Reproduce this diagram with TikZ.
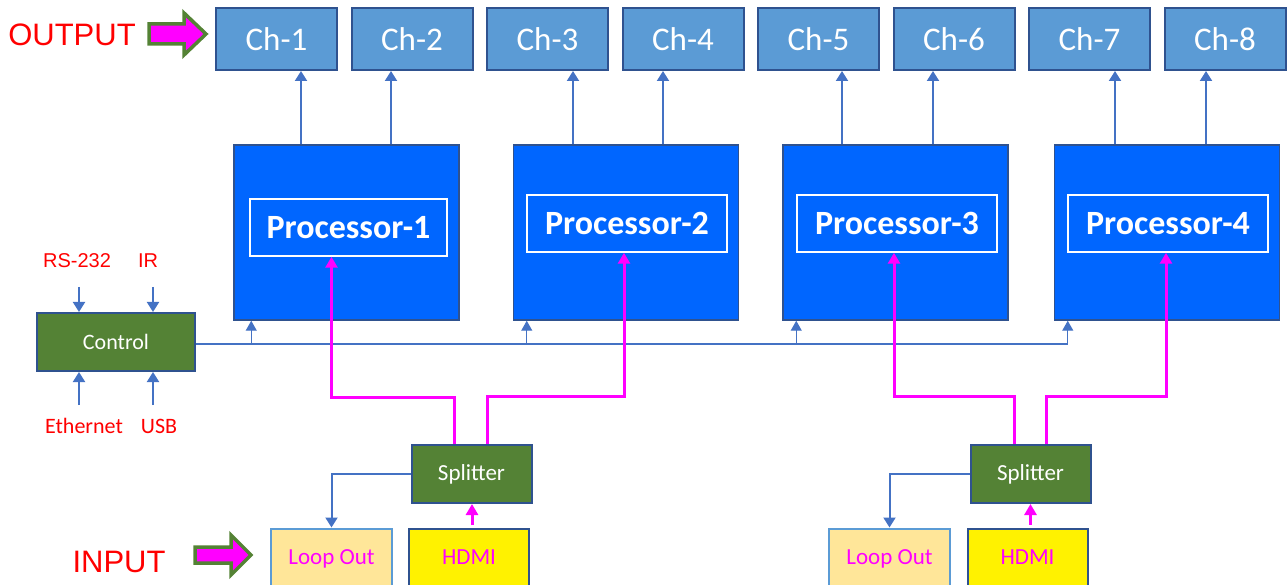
\documentclass[tikz,border=0pt]{standalone}
\usepackage{fontspec}
\setmainfont{Carlito}
\newfontfamily\arialfont{Liberation Sans}
\usetikzlibrary{positioning,arrows.meta}
\definecolor{chfill}{RGB}{91,155,213}
\definecolor{chline}{RGB}{47,82,143}
\definecolor{procfill}{RGB}{0,102,255}
\definecolor{ctlgreen}{RGB}{84,130,53}
\definecolor{loopfill}{RGB}{255,230,153}
\definecolor{wireblue}{RGB}{68,114,196}
\definecolor{sigpink}{RGB}{255,0,255}
\definecolor{labred}{RGB}{255,0,0}
\begin{document}
\begin{tikzpicture}[x=1pt,y=-1pt,
    chbox/.style={draw=chline,line width=2pt,fill=chfill,text=white,inner sep=0pt,
      minimum width=121pt,minimum height=62pt,font=\fontsize{33}{33}\selectfont},
    procbox/.style={draw=chline,line width=1.5pt,fill=procfill,inner sep=0pt,
      minimum width=225pt,minimum height=175pt},
    procname/.style={draw=white,line width=1.5pt,text=white,inner sep=0pt,
      minimum width=200pt,minimum height=57pt,font=\fontsize{34}{34}\selectfont\bfseries},
    greenbox/.style={draw=chline,line width=2pt,fill=ctlgreen,text=white,inner sep=0pt,
      minimum height=58pt,font=\fontsize{22}{22}\selectfont},
    loopbox/.style={draw=chfill,line width=2pt,fill=loopfill,text=sigpink,inner sep=0pt,
      text depth=0pt,minimum width=121pt,minimum height=57pt,font=\fontsize{23}{23}\selectfont},
    hdmibox/.style={draw=chline,line width=2pt,fill=yellow,text=sigpink,inner sep=0pt,
      minimum width=120pt,minimum height=57pt,font=\fontsize{23}{23}\selectfont},
    redtext/.style={text=labred,inner sep=0pt},
    feed/.style={draw=wireblue,line width=2pt,-{Triangle[length=10pt,width=12pt]}},
    tap/.style={draw=wireblue,line width=1.2pt,-{Triangle[length=10pt,width=11pt]}},
    sig/.style={draw=sigpink,line width=3pt,-{Triangle[length=11pt,width=12pt]}},
    bigarrow/.style={draw=ctlgreen,line width=3.5pt,fill=sigpink,line join=miter}]
    \useasboundingbox (0,0) rectangle (1288,585);
    % output channels
    \node[chbox] (ch1) at (276.5,39) {Ch-1};
    \node[chbox] (ch2) at (412,39) {Ch-2};
    \node[chbox] (ch3) at (547.5,39) {Ch-3};
    \node[chbox] (ch4) at (683,39) {Ch-4};
    \node[chbox] (ch5) at (818.5,39) {Ch-5};
    \node[chbox] (ch6) at (954,39) {Ch-6};
    \node[chbox] (ch7) at (1089.5,39) {Ch-7};
    \node[chbox] (ch8) at (1225,39) {Ch-8};
    % processors
    \node[procbox] (proc1) at (346.5,232.5) {};
    \node[procbox] (proc2) at (626,232.5) {};
    \node[procbox] (proc3) at (895.5,232.5) {};
    \node[procbox] (proc4) at (1167,232.5) {};
    \node[procname,minimum width=197pt] (pname1) at (348.5,227.5) {Processor-1};
    \node[procname] (pname2) at (627,223.5) {Processor-2};
    \node[procname] (pname3) at (897,223.5) {Processor-3};
    \node[procname] (pname4) at (1168,223.5) {Processor-4};
    % control
    \node[greenbox,minimum width=158pt] (ctrl) at (116,342) {Control};
    \node[redtext,font=\arialfont\fontsize{20}{20}\selectfont] (rs) at (77,261) {RS-232};
    \node[redtext,font=\arialfont\fontsize{20}{20}\selectfont] (ir) at (148,261) {IR};
    \node[redtext,font=\fontsize{22}{22}\selectfont] (eth) at (84,426) {Ethernet};
    \node[redtext,font=\fontsize{22}{22}\selectfont] (usb) at (159,426) {USB};
    % splitters and inputs
    \node[greenbox,minimum width=120pt,font=\fontsize{23}{23}\selectfont] (split1) at (471.5,474) {Splitter};
    \node[greenbox,minimum width=120pt,font=\fontsize{23}{23}\selectfont] (split2) at (1030.5,474) {Splitter};
    \node[loopbox] (loop1) at (331.5,557) {Loop Out};
    \node[hdmibox] (hdmi1) at (469,557) {HDMI};
    \node[loopbox] (loop2) at (889.5,557) {Loop Out};
    \node[hdmibox] (hdmi2) at (1027.5,557) {HDMI};
    % labels with block arrows
    \node[redtext,font=\arialfont\fontsize{31}{31}\selectfont] (outlabel) at (72,35) {OUTPUT};
    \node[redtext,font=\arialfont\fontsize{31}{31}\selectfont] (inlabel) at (119,562) {INPUT};
    \draw[bigarrow] (149,24) -- (184,24) -- (184,13) -- (206,34) -- (184,55) -- (184,44) -- (149,44) -- cycle;
    \draw[bigarrow] (195,547) -- (231,547) -- (231,535) -- (251,555) -- (231,575) -- (231,563) -- (195,563) -- cycle;
    % processor to channel
    \draw[feed] ([xshift=-45.5pt]proc1.north) -- ([xshift=-45.5pt]proc1.north |- ch1.south);
    \draw[feed] ([xshift=44.5pt]proc1.north) -- ([xshift=44.5pt]proc1.north |- ch2.south);
    \draw[feed] ([xshift=-53pt]proc2.north) -- ([xshift=-53pt]proc2.north |- ch3.south);
    \draw[feed] ([xshift=37pt]proc2.north) -- ([xshift=37pt]proc2.north |- ch4.south);
    \draw[feed] ([xshift=-53.5pt]proc3.north) -- ([xshift=-53.5pt]proc3.north |- ch5.south);
    \draw[feed] ([xshift=37.5pt]proc3.north) -- ([xshift=37.5pt]proc3.north |- ch6.south);
    \draw[feed] ([xshift=-52pt]proc4.north) -- ([xshift=-52pt]proc4.north |- ch7.south);
    \draw[feed] ([xshift=39pt]proc4.north) -- ([xshift=39pt]proc4.north |- ch8.south);
    % control inputs
    \coordinate (rsin) at ([xshift=-37pt]ctrl.north);
    \coordinate (irin) at ([xshift=37pt]ctrl.north);
    \coordinate (ethin) at ([xshift=-37pt]ctrl.south);
    \coordinate (usbin) at ([xshift=37pt]ctrl.south);
    \draw[feed] (rsin) ++(0,-25) -- (rsin);
    \draw[feed] (irin) ++(0,-25) -- (irin);
    \draw[feed] (ethin) ++(0,33) -- (ethin);
    \draw[feed] (usbin) ++(0,33) -- (usbin);
    % control bus
    \coordinate (busout) at ([yshift=-2pt]ctrl.east);
    \coordinate (tap1) at ([xshift=18pt]proc1.south west);
    \coordinate (tap2) at ([xshift=14pt]proc2.south west);
    \coordinate (tap3) at ([xshift=14pt]proc3.south west);
    \coordinate (tap4) at ([xshift=14pt]proc4.south west);
    \draw[tap] (busout) -| (tap4);
    \draw[tap] (tap1 |- busout) -- (tap1);
    \draw[tap] (tap2 |- busout) -- (tap2);
    \draw[tap] (tap3 |- busout) -- (tap3);
    % video paths
    \draw[sig] ([xshift=-17.5pt]split1.north) -- ++(0,-47) -| ([xshift=-17pt]pname1.south);
    \draw[sig] ([xshift=15.5pt]split1.north) -- ++(0,-48) -| ([xshift=-3pt]pname2.south);
    \draw[sig] ([xshift=-16.5pt]split2.north) -- ++(0,-48) -| ([xshift=-3pt]pname3.south);
    \draw[sig] ([xshift=15.5pt]split2.north) -- ++(0,-48) -| ([xshift=-2pt]pname4.south);
    \draw[sig] ([xshift=3pt,yshift=3pt]hdmi1.north) -- ([xshift=3pt]hdmi1.north |- split1.south);
    \draw[sig] ([xshift=3pt,yshift=3pt]hdmi2.north) -- ([xshift=3pt]hdmi2.north |- split2.south);
    \draw[feed] (split1.west) -| (loop1.north);
    \draw[feed] (split2.west) -| (loop2.north);
\end{tikzpicture}
\end{document}
